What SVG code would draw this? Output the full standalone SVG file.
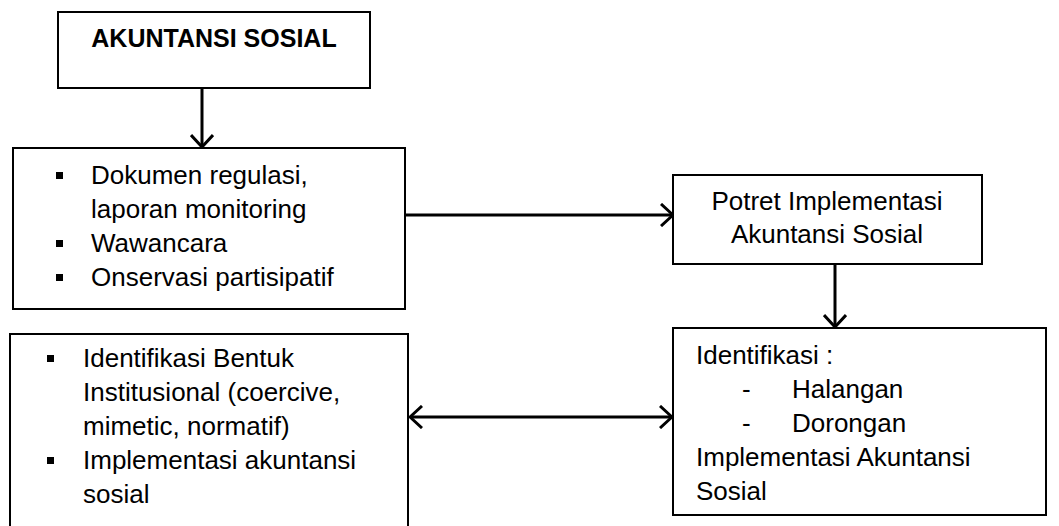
<svg xmlns="http://www.w3.org/2000/svg" width="1059" height="526" viewBox="0 0 1059 526">
<style>
.box{fill:#fff;stroke:#000;stroke-width:2}
.t{font-family:"Liberation Sans",Arial,sans-serif;font-size:26px;fill:#000}
.b{font-weight:bold;font-size:25px}
.c{stroke:#000;stroke-width:3;fill:none}
.blt{fill:#000}
</style>
<defs>
<marker id="ah" viewBox="0 0 14 24" refX="13" refY="12" markerWidth="14" markerHeight="24" markerUnits="userSpaceOnUse" orient="auto-start-reverse">
<path d="M1,1 L13,12 L1,23" fill="none" stroke="#000" stroke-width="3"/>
</marker>
</defs>
<rect width="1059" height="526" fill="#fff"/>
<g id="connectors">
<line class="c" x1="202" y1="88" x2="202" y2="147" marker-end="url(#ah)"/>
<line class="c" x1="405" y1="215" x2="673" y2="215" marker-end="url(#ah)"/>
<line class="c" x1="835" y1="264" x2="835" y2="327" marker-end="url(#ah)"/>
<line class="c" x1="410" y1="417" x2="672" y2="417" marker-start="url(#ah)" marker-end="url(#ah)"/>
</g>
<g id="node-akuntansi">
<rect class="box" x="58" y="12" width="312" height="76"/>
<text class="t b" x="214" y="47" text-anchor="middle">AKUNTANSI SOSIAL</text>
</g>
<g id="node-metode">
<rect class="box" x="13" y="148" width="392" height="161"/>
<rect class="blt" x="56" y="172" width="7" height="7"/>
<text class="t" x="91" y="184">Dokumen regulasi,</text>
<text class="t" x="91" y="218">laporan monitoring</text>
<rect class="blt" x="56" y="240" width="7" height="7"/>
<text class="t" x="91" y="252">Wawancara</text>
<rect class="blt" x="56" y="274" width="7" height="7"/>
<text class="t" x="91" y="286">Onservasi partisipatif</text>
</g>
<g id="node-potret">
<rect class="box" x="673" y="175" width="309" height="89"/>
<text class="t" x="827" y="210" text-anchor="middle">Potret Implementasi</text>
<text class="t" x="827" y="243" text-anchor="middle">Akuntansi Sosial</text>
</g>
<g id="node-identifikasi">
<rect class="box" x="673" y="328" width="373" height="187"/>
<text class="t" x="696" y="364">Identifikasi :</text>
<text class="t" x="742" y="398">-</text>
<text class="t" x="792" y="398">Halangan</text>
<text class="t" x="742" y="432">-</text>
<text class="t" x="792" y="432">Dorongan</text>
<text class="t" x="696" y="466">Implementasi Akuntansi</text>
<text class="t" x="696" y="500">Sosial</text>
</g>
<g id="node-institusional">
<path class="box" d="M10,527 V334 H408 V527"/>
<rect class="blt" x="47" y="355" width="7" height="7"/>
<text class="t" x="83" y="367">Identifikasi Bentuk</text>
<text class="t" x="83" y="401">Institusional (coercive,</text>
<text class="t" x="83" y="435">mimetic, normatif)</text>
<rect class="blt" x="47" y="457" width="7" height="7"/>
<text class="t" x="83" y="469">Implementasi akuntansi</text>
<text class="t" x="83" y="503">sosial</text>
</g>
</svg>
